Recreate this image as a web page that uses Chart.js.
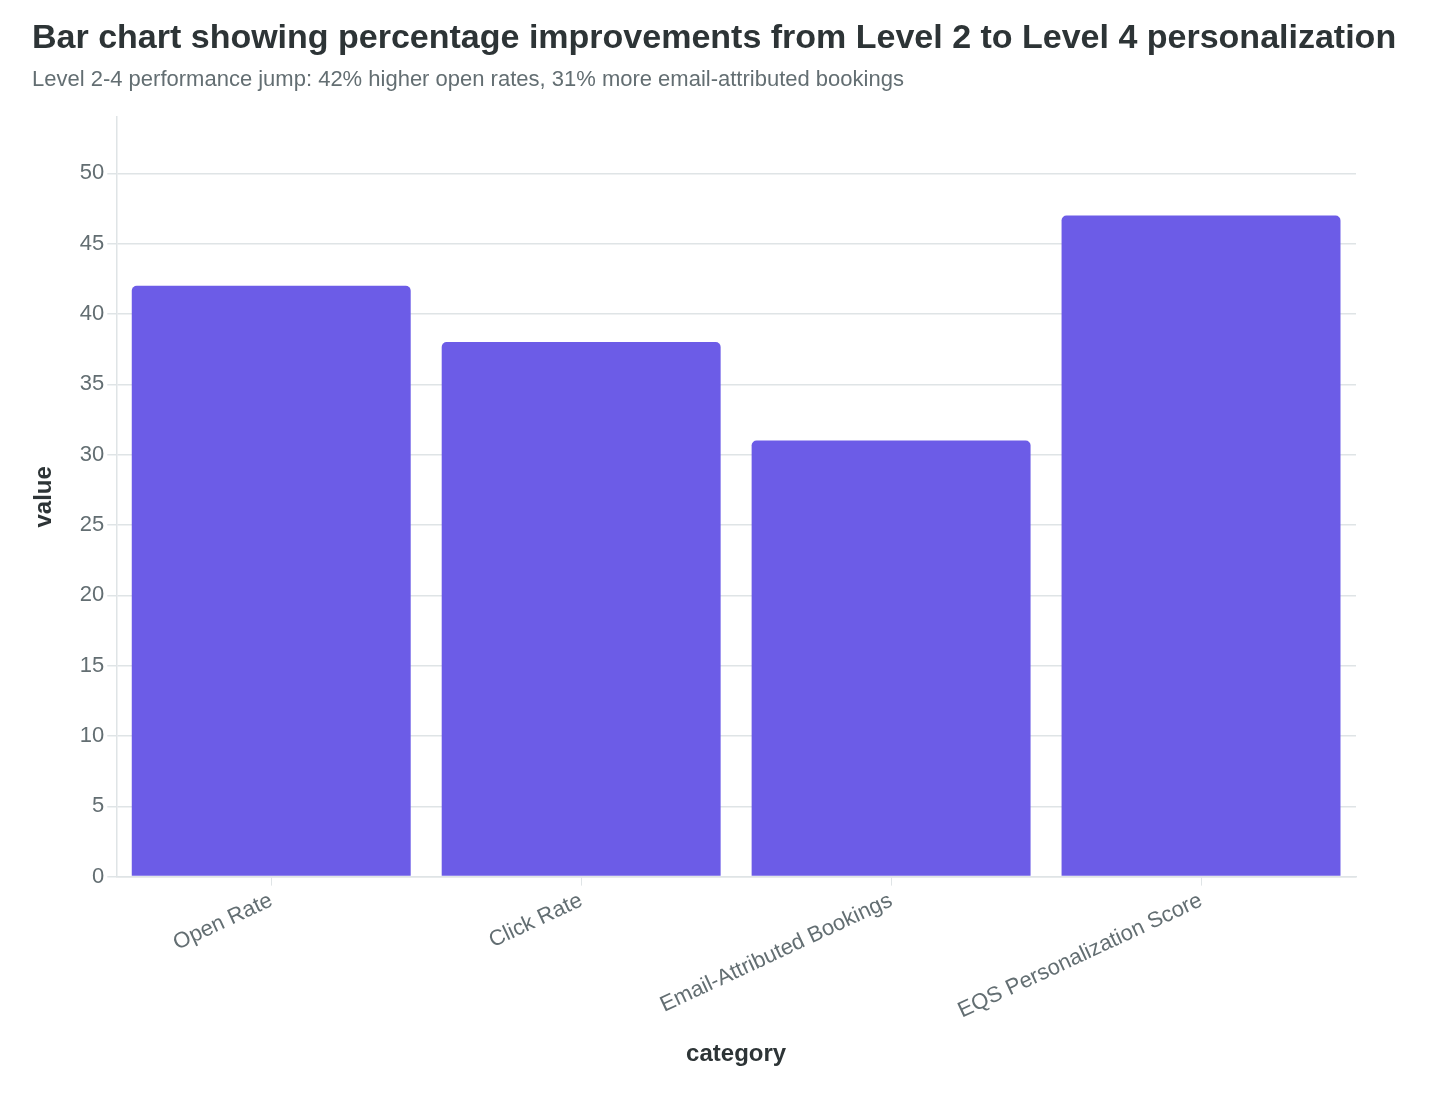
<!DOCTYPE html>
<html>
<head>
<meta charset="utf-8">
<title>Level 2 to Level 4 personalization</title>
<script src="https://cdn.jsdelivr.net/npm/chart.js@4"></script>
<style>
    body { margin: 0; background: #ffffff; font-family: "Liberation Sans", Arial, Helvetica, sans-serif; }
    .wrap { position: relative; width: 1446px; height: 1096px; }
    .wrap canvas { position: absolute; left: 0; top: 0; }
    .title {
        position: absolute; left: 32px; top: 16px;
        font-size: 34px; line-height: 40px; font-weight: bold; color: #2d3436;
        white-space: nowrap;
    }
    .subtitle {
        position: absolute; left: 32px; top: 66px;
        font-size: 22px; line-height: 26px; color: #636e72;
        white-space: nowrap;
    }
</style>
</head>
<body>
<div class="wrap">
    <canvas id="chart" width="1446" height="1096"></canvas>
    <div class="title">Bar chart showing percentage improvements from Level 2 to Level 4 personalization</div>
    <div class="subtitle">Level 2-4 performance jump: 42% higher open rates, 31% more email-attributed bookings</div>
</div>
<script>
// Chart values
const categories = ['Open Rate', 'Click Rate', 'Email-Attributed Bookings', 'EQS Personalization Score'];
const improvements = [42, 38, 31, 47];
const yTicks = [0, 5, 10, 15, 20, 25, 30, 35, 40, 45, 50];

const fontFamily = '"Liberation Sans", Arial, Helvetica, sans-serif';
const gridColor = '#dfe4e6';

const ctx = document.getElementById('chart').getContext('2d');
const chart = new Chart(ctx, {
    type: 'bar',
    data: {
        labels: categories,
        datasets: [{
            label: 'value',
            data: improvements,
            backgroundColor: '#6c5ce7',
            borderRadius: { topLeft: 5, topRight: 5 },
            borderSkipped: 'bottom',
            barPercentage: 0.9,
            categoryPercentage: 1.0
        }]
    },
    options: {
        responsive: false,
        animation: false,
        devicePixelRatio: 1,
        layout: {
            // room at the top for the html title and subtitle
            padding: { left: 30, right: 90, top: 117, bottom: 23 }
        },
        plugins: {
            legend: { display: false },
            tooltip: { enabled: false }
        },
        scales: {
            x: {
                grid: {
                    drawOnChartArea: false,
                    drawTicks: true,
                    offset: false,
                    tickLength: 9,
                    color: gridColor
                },
                border: { color: gridColor, width: 1.5 },
                ticks: {
                    color: '#636e72',
                    font: { family: fontFamily, size: 22 },
                    minRotation: 25,
                    maxRotation: 25,
                    padding: 2
                },
                title: {
                    display: true,
                    text: 'category',
                    color: '#2d3436',
                    font: { family: fontFamily, size: 24, weight: 'bold' },
                    padding: { top: 14 }
                }
            },
            y: {
                min: 0,
                max: 54,
                afterBuildTicks: axis => {
                    axis.ticks = yTicks.map(v => ({ value: v }));
                },
                grid: {
                    color: gridColor,
                    lineWidth: 1.5,
                    tickLength: 9
                },
                border: { color: gridColor, width: 1.5 },
                ticks: {
                    color: '#636e72',
                    font: { family: fontFamily, size: 22 },
                    padding: 3
                },
                title: {
                    display: true,
                    text: 'value',
                    color: '#2d3436',
                    font: { family: fontFamily, size: 24, weight: 'bold' },
                    padding: { top: 0, bottom: 18 }
                }
            }
        }
    }
});
</script>
</body>
</html>
